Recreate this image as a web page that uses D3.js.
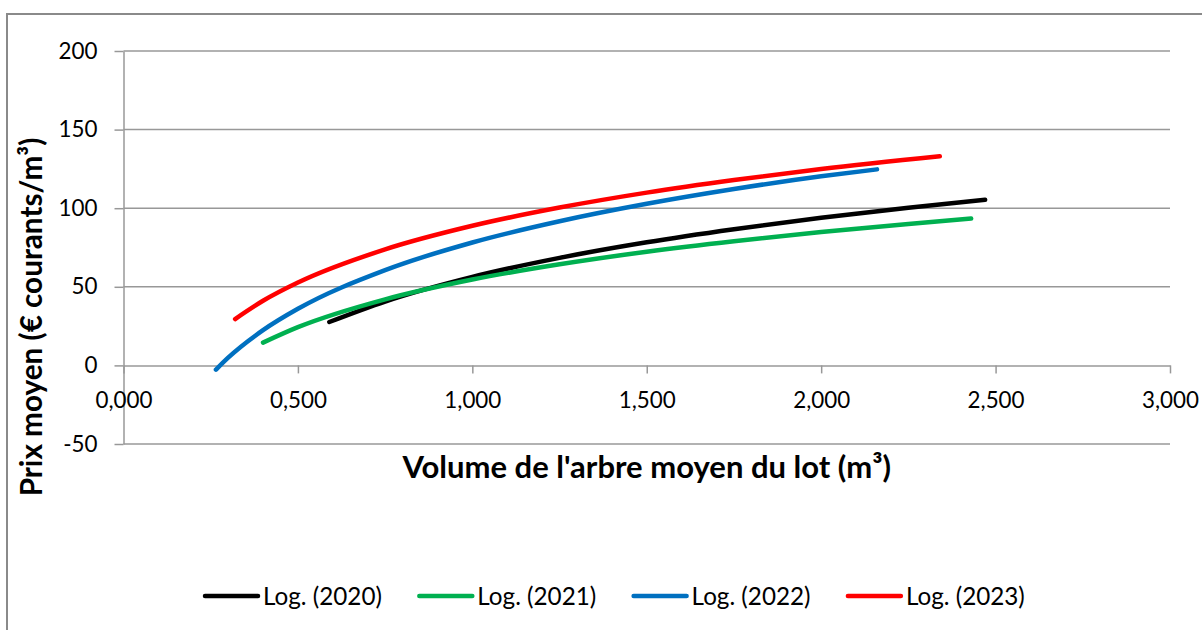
<!DOCTYPE html>
<html>
<head>
<meta charset="utf-8">
<script src="https://cdn.jsdelivr.net/npm/d3@7"></script>
<style>
  html, body { margin: 0; padding: 0; background: #fff; }
  svg { display: block; font-family: Lato, "Open Sans", sans-serif; }
</style>
</head>
<body>
<svg id="chart" width="1202" height="630"></svg>
<script>
// ---- data ----
const seriesNames = ["Log. (2020)", "Log. (2021)", "Log. (2022)", "Log. (2023)"];
const seriesColors = ["#000000", "#00B050", "#0070C0", "#FF0000"];

const x2020 = [0.59, 0.75, 1.0, 1.25, 1.5, 1.75, 2.0, 2.25, 2.47];
const y2020 = [27.6, 40.6, 56.3, 68.4, 78.3, 86.6, 93.9, 100.3, 105.4];

const x2021 = [0.40, 0.5, 0.75, 1.0, 1.25, 1.5, 1.75, 2.0, 2.25, 2.43];
const y2021 = [14.5, 24.3, 42.0, 54.6, 64.3, 72.3, 79.0, 84.8, 90.0, 93.4];

const x2022 = [0.265, 0.3, 0.4, 0.5, 0.75, 1.0, 1.25, 1.5, 1.75, 2.0, 2.16];
const y2022 = [-2.7, 4.9, 22.4, 36.0, 60.6, 78.2, 91.7, 102.8, 112.2, 120.3, 124.7];

const x2023 = [0.32, 0.4, 0.5, 0.75, 1.0, 1.25, 1.5, 1.75, 2.0, 2.34];
const y2023 = [29.5, 41.1, 52.7, 73.8, 88.8, 100.4, 109.9, 117.9, 124.9, 133.0];

const xTickValues = [0, 0.5, 1.0, 1.5, 2.0, 2.5, 3.0];
const xTickLabels = ["0,000", "0,500", "1,000", "1,500", "2,000", "2,500", "3,000"];
const yTickValues = [-50, 0, 50, 100, 150, 200];
const yTickLabels = ["-50", "0", "50", "100", "150", "200"];

const xTitle = "Volume de l'arbre moyen du lot (m³)";
const yTitle = "Prix moyen (€ courants/m³)";

const seriesX = [x2020, x2021, x2022, x2023];
const seriesY = [y2020, y2021, y2022, y2023];

// ---- layout ----
const svg = d3.select("#chart");
const gridColor = "#989898";
const plot = { left: 123.5, right: 1170, top: 51, bottom: 444 };

const x = d3.scaleLinear().domain([0, 3]).range([plot.left, plot.right]);
const y = d3.scaleLinear().domain([-50, 200]).range([plot.bottom, plot.top]);

function fitFont(sel, targetWidth) {
  const base = 20;
  sel.attr("font-size", base);
  const w = sel.node().getComputedTextLength();
  const fs = base * targetWidth / w;
  sel.attr("font-size", fs);
  return fs;
}

// outer chart border
svg.append("rect")
  .attr("x", 7).attr("y", 14)
  .attr("width", 1300).attr("height", 700)
  .attr("fill", "none").attr("stroke", "#8a8a8a").attr("stroke-width", 2);

// gridlines
svg.append("g").selectAll("line")
  .data(yTickValues.filter(v => v !== 0))
  .join("line")
  .attr("x1", plot.left).attr("x2", plot.right)
  .attr("y1", d => y(d)).attr("y2", d => y(d))
  .attr("stroke", gridColor).attr("stroke-width", 1.5);

// measure tick font size
const probe = svg.append("text").text("200");
const tickFs = fitFont(probe, 39);
probe.remove();

// y axis
const yAxis = svg.append("g")
  .attr("transform", `translate(${plot.left},0)`)
  .call(d3.axisLeft(y).tickValues(yTickValues)
    .tickFormat((d, i) => yTickLabels[i])
    .tickSize(9).tickSizeOuter(0).tickPadding(17));
yAxis.select(".domain").attr("stroke", gridColor).attr("stroke-width", 1.5);
yAxis.selectAll(".tick line").attr("stroke", gridColor).attr("stroke-width", 1.5);
yAxis.selectAll("text").attr("font-size", tickFs).attr("fill", "#000")
  .attr("font-family", "Lato, sans-serif");

// x axis at y = 0
const xAxis = svg.append("g")
  .attr("transform", `translate(0,${y(0)})`)
  .call(d3.axisBottom(x).tickValues(xTickValues)
    .tickFormat((d, i) => xTickLabels[i])
    .tickSize(8).tickSizeOuter(0).tickPadding(19));
xAxis.select(".domain").attr("stroke", gridColor).attr("stroke-width", 1.5);
xAxis.selectAll(".tick line").attr("stroke", gridColor).attr("stroke-width", 1.5);
xAxis.selectAll("text").attr("font-size", tickFs).attr("fill", "#000")
  .attr("font-family", "Lato, sans-serif");

// series lines
const line = d3.line()
  .x(d => x(d[0])).y(d => y(d[1]))
  .curve(d3.curveMonotoneX);

seriesX.forEach((xs, i) => {
  const pts = xs.map((v, j) => [v, seriesY[i][j]]);
  svg.append("path")
    .datum(pts)
    .attr("d", line)
    .attr("fill", "none")
    .attr("stroke", seriesColors[i])
    .attr("stroke-width", 4.5)
    .attr("stroke-linecap", "round")
    .attr("stroke-linejoin", "round");
});

// axis titles
const xt = svg.append("text")
  .text(xTitle)
  .attr("x", (plot.left + plot.right) / 2)
  .attr("y", 478)
  .attr("text-anchor", "middle")
  .attr("font-weight", "bold")
  .attr("fill", "#000");
fitFont(xt, 489);

const yt = svg.append("text")
  .text(yTitle)
  .attr("transform", "translate(42,317) rotate(-90)")
  .attr("text-anchor", "middle")
  .attr("font-weight", "bold")
  .attr("fill", "#000");
fitFont(yt, 359);

// legend
const lp = svg.append("text").text(seriesNames[0]);
const legFs = fitFont(lp, 119);
lp.remove();

const legend = svg.append("g");
seriesNames.forEach((name, i) => {
  const gx = 205 + i * 214.3;
  const g = legend.append("g").attr("transform", `translate(${gx},596)`);
  g.append("line")
    .attr("x1", 0).attr("x2", 53).attr("y1", 0).attr("y2", 0)
    .attr("stroke", seriesColors[i]).attr("stroke-width", 4.5)
    .attr("stroke-linecap", "round");
  g.append("text")
    .attr("x", 58).attr("y", 9)
    .attr("font-size", legFs)
    .attr("fill", "#000")
    .text(name);
});
</script>
</body>
</html>
